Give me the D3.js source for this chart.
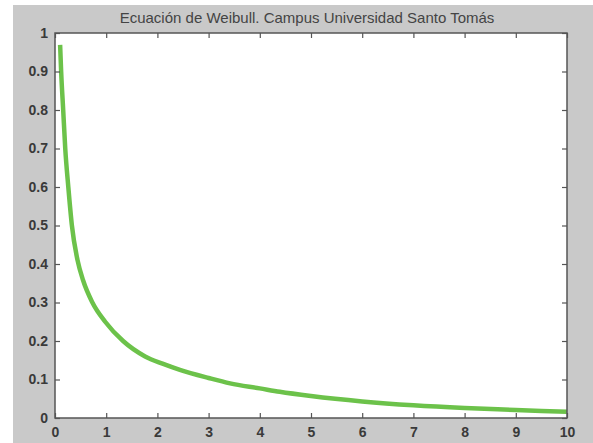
<!DOCTYPE html>
<html>
<head>
<meta charset="utf-8">
<script src="https://cdn.jsdelivr.net/npm/d3@7"></script>
<style>
  body { margin: 0; background: #ffffff; }
  text { font-family: "Liberation Sans", Arial, sans-serif; }
</style>
</head>
<body>
<div id="chart"></div>
<script>
// Weibull curve
var xValues = [0.1, 0.12, 0.16, 0.2, 0.26, 0.33, 0.44, 0.55, 0.73, 0.98, 1.33, 1.76, 2.1, 2.44, 3, 3.42, 4, 4.39, 5, 6, 7, 8, 9, 10]
var yValues = [0.969, 0.90, 0.80, 0.70, 0.60, 0.50, 0.41, 0.357, 0.30, 0.25, 0.20, 0.16, 0.141, 0.125, 0.104, 0.09, 0.077, 0.068, 0.057, 0.043, 0.033, 0.026, 0.021, 0.016]
var xTicks = [0, 1, 2, 3, 4, 5, 6, 7, 8, 9, 10]
var yTicks = [0, 0.1, 0.2, 0.3, 0.4, 0.5, 0.6, 0.7, 0.8, 0.9, 1]
var title = "Ecuación de Weibull. Campus Universidad Santo Tomás"

var width = 593
var height = 443
var margin = {left: 55, top: 33, right: 26, bottom: 25}

var svg = d3.select("#chart")
            .append("svg")
            .attr("width", width)
            .attr("height", height)

// grey figure background (white strip on left and top edges)
svg.append("rect")
   .attr("x", 13)
   .attr("y", 5)
   .attr("width", width - 13)
   .attr("height", height - 5)
   .attr("fill", "#c9c9c9")

var xScale = d3.scaleLinear()
               .domain([0, 10])
               .range([margin.left, width - margin.right])

var yScale = d3.scaleLinear()
               .domain([0, 1])
               .range([height - margin.bottom, margin.top])

// white axes area
svg.append("rect")
   .attr("x", xScale(0))
   .attr("y", yScale(1))
   .attr("width", xScale(10) - xScale(0))
   .attr("height", yScale(0) - yScale(1))
   .attr("fill", "#ffffff")

var data = xValues.map((x, i) => ({x: x, y: yValues[i]}))

var line = d3.line()
             .x((d) => xScale(d.x))
             .y((d) => yScale(d.y))
             .curve(d3.curveMonotoneX)

svg.append("path")
   .datum(data)
   .attr("d", line)
   .attr("fill", "none")
   .attr("stroke", "#6cc24a")
   .attr("stroke-width", 4.5)

// MATLAB style box with inward ticks on all four sides
var tickLen = 5
var xBottom = d3.axisBottom(xScale).tickValues(xTicks).tickSize(-tickLen).tickPadding(9).tickFormat(d3.format("d"))
var xTop = d3.axisTop(xScale).tickValues(xTicks).tickSize(-tickLen).tickFormat("")
var yLeft = d3.axisLeft(yScale).tickValues(yTicks).tickSize(-tickLen).tickPadding(7).tickFormat((d) => d === 0 || d === 1 ? d3.format("d")(d) : d3.format(".1f")(d))
var yRight = d3.axisRight(yScale).tickValues(yTicks).tickSize(-tickLen).tickFormat("")

function styleAxis(g) {
  g.selectAll("line").attr("stroke", "#555").attr("stroke-width", 1.2)
  g.selectAll("text").attr("fill", "#3a3a3a").style("font-size", "14px").style("font-weight", "bold")
  g.select(".domain").remove()
}

svg.append("g")
   .attr("transform", "translate(0," + yScale(0) + ")")
   .call(xBottom).call(styleAxis)
svg.append("g")
   .attr("transform", "translate(0," + yScale(1) + ")")
   .call(xTop).call(styleAxis)
svg.append("g")
   .attr("transform", "translate(" + xScale(0) + ",0)")
   .call(yLeft).call(styleAxis)
svg.append("g")
   .attr("transform", "translate(" + xScale(10) + ",0)")
   .call(yRight).call(styleAxis)

// box frame
svg.append("rect")
   .attr("x", xScale(0))
   .attr("y", yScale(1))
   .attr("width", xScale(10) - xScale(0))
   .attr("height", yScale(0) - yScale(1))
   .attr("fill", "none")
   .attr("stroke", "#555")
   .attr("stroke-width", 1.5)

svg.append("text")
   .attr("x", (xScale(0) + xScale(10)) / 2 - 4)
   .attr("y", 23)
   .attr("text-anchor", "middle")
   .attr("fill", "#444")
   .style("font-size", "15px")
   .text(title)
</script>
</body>
</html>
